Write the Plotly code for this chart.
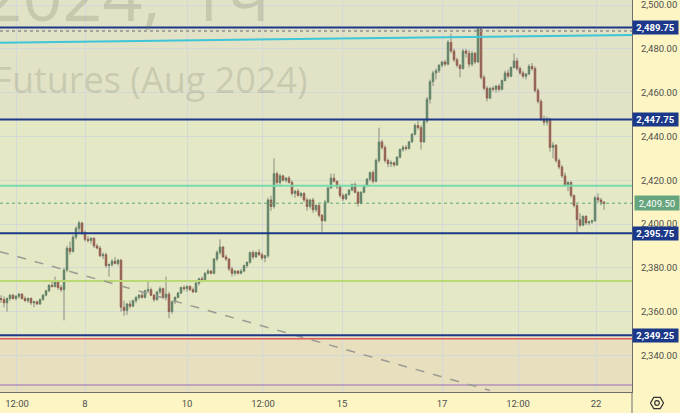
import math
import plotly.graph_objects as go

# ---------------- data ----------------
opens = [2366, 2365.5, 2364, 2366, 2367.5, 2366, 2367, 2368, 2366, 2365,
         2366, 2364, 2364.5, 2363.5, 2365.5, 2367.5, 2369.5, 2372, 2371.5, 2373.5,
         2371, 2370, 2379, 2389, 2387.5, 2394, 2398, 2400.5, 2396, 2393,
         2392.5, 2393.5, 2390, 2389, 2385.5, 2386, 2381, 2381.5, 2383, 2382,
         2383.5, 2362, 2360.5, 2363.5, 2362.5, 2365, 2366.5, 2367.5, 2366.5, 2369.5,
         2370, 2367.5, 2365.5, 2369, 2370.5, 2366.5, 2368, 2360, 2364.5, 2366.5,
         2368.5, 2371, 2370.5, 2371.5, 2370, 2369, 2373, 2375, 2374.5, 2377.5,
         2378.5, 2377.5, 2384, 2387, 2389.5, 2385, 2384, 2379.5, 2377.5, 2378.5,
         2377.5, 2378.5, 2381, 2382.5, 2387, 2385, 2387, 2386, 2384.5, 2385.5,
         2411, 2408, 2423, 2419, 2422, 2420, 2421, 2419, 2414, 2415,
         2413, 2414, 2411, 2408, 2411, 2406.5, 2408.5, 2404, 2401.5, 2410,
         2416.5, 2421, 2419.5, 2417, 2413, 2411.5, 2413.5, 2415.5, 2418, 2414.5,
         2409.5, 2414.5, 2417.5, 2420.5, 2423.5, 2419.5, 2429, 2437.5, 2435, 2429,
         2427.5, 2428, 2427, 2430.5, 2434, 2435, 2434.5, 2437.5, 2441, 2445,
         2444, 2437.5, 2447, 2457, 2465, 2469, 2470, 2472.5, 2474, 2473,
         2483, 2479, 2475, 2472.5, 2471, 2479, 2478, 2473, 2478, 2474,
         2489, 2467, 2462, 2457.5, 2462, 2461.5, 2463, 2461.5, 2465.5, 2469,
         2467.5, 2471.5, 2474.5, 2471, 2469, 2467.5, 2468.5, 2472, 2471, 2461,
         2456, 2448, 2446.5, 2448, 2435, 2436, 2429, 2426, 2422, 2418,
         2419, 2413, 2408.5, 2402, 2399.5, 2403.5, 2400.5, 2401, 2401.5, 2412,
         2411, 2410]
highs = [2367.5, 2367, 2366.5, 2368, 2368, 2367.5, 2368.5, 2368.5, 2367, 2366.5,
         2366.5, 2365, 2365, 2366, 2368, 2370, 2372.5, 2374, 2376, 2374,
         2372, 2380, 2390, 2392, 2395, 2399, 2401.5, 2401, 2397, 2394.5,
         2394, 2394, 2391, 2390, 2387, 2387, 2382, 2384, 2385, 2384,
         2384, 2365, 2364, 2365, 2365.5, 2367, 2368, 2369, 2370, 2374,
         2371, 2368, 2369.5, 2371.5, 2371, 2376, 2369, 2365, 2367, 2369,
         2371.5, 2372, 2372, 2372, 2371, 2373.5, 2375.5, 2376, 2378, 2379.5,
         2379, 2384.5, 2388, 2393, 2390, 2386, 2384.5, 2380.5, 2379, 2379,
         2379.5, 2381.5, 2383, 2387.5, 2388, 2387.5, 2388.5, 2387, 2386, 2412,
         2413, 2430, 2424, 2423, 2422.5, 2421.5, 2422, 2420, 2415.5, 2416,
         2414.5, 2414.5, 2412, 2411.5, 2412, 2409, 2409, 2404.5, 2411, 2417,
         2423, 2423, 2420, 2418, 2414, 2414, 2416, 2418.5, 2419, 2415,
         2415, 2418, 2421, 2424, 2424.5, 2430, 2444, 2438.5, 2436, 2430,
         2429, 2428.5, 2431, 2434.5, 2436, 2436, 2438, 2441.5, 2446, 2447,
         2445, 2448, 2458, 2466, 2470, 2471, 2473, 2474.5, 2475, 2484,
         2487, 2480, 2476, 2473, 2480, 2480, 2479.5, 2479, 2478.5, 2489.5,
         2489.5, 2468, 2463, 2462.5, 2463, 2463.5, 2464, 2466, 2470, 2470.5,
         2472, 2478, 2476, 2472, 2470, 2469, 2473, 2473.5, 2472, 2462,
         2457, 2449.5, 2449, 2448.5, 2437.5, 2436.5, 2430, 2427, 2423.5, 2419.5,
         2419.5, 2413.5, 2409, 2405, 2404, 2404, 2401.5, 2402, 2413, 2414,
         2412, 2410.5]
lows = [2364, 2362, 2360, 2365, 2365.5, 2365, 2366, 2365.5, 2364.5, 2364,
        2363, 2362, 2363, 2363, 2365, 2367, 2369, 2371, 2371, 2370,
        2369, 2356, 2378, 2386, 2387, 2393, 2396, 2395, 2392, 2391.5,
        2391, 2389, 2388.5, 2385, 2384, 2380, 2376, 2380.5, 2381.5, 2381,
        2360, 2358, 2358.5, 2361.5, 2362, 2364, 2365.5, 2366, 2366, 2368.5,
        2367, 2364.5, 2365, 2368, 2366, 2365, 2357, 2359, 2363.5, 2366,
        2368, 2369.5, 2369, 2369.5, 2368.5, 2368.5, 2372, 2373.5, 2374, 2377,
        2377, 2377, 2383, 2386, 2384.5, 2383, 2378.5, 2376, 2376.5, 2377,
        2377, 2378, 2380, 2382, 2384, 2384.5, 2385.5, 2383.5, 2382.5, 2384.5,
        2406, 2407, 2418, 2418, 2419.5, 2419, 2418.5, 2413, 2412, 2412.5,
        2412, 2410, 2406, 2407, 2405, 2405.5, 2403, 2396.5, 2401, 2409.5,
        2416, 2419, 2416, 2412, 2410.5, 2411, 2413, 2415, 2414, 2408,
        2409, 2414, 2417, 2419.5, 2418.5, 2419, 2428, 2434, 2428, 2426,
        2426, 2426, 2426.5, 2430, 2433, 2433.5, 2434, 2437, 2440.5, 2443,
        2434, 2437, 2446, 2455, 2463, 2466, 2469, 2471.5, 2472, 2472.5,
        2478, 2474, 2471.5, 2467, 2470.5, 2476, 2471.5, 2472, 2473, 2473.5,
        2466, 2461, 2456, 2457, 2460.5, 2460, 2460.5, 2461, 2465, 2466.5,
        2467, 2471, 2470, 2468, 2466.5, 2466, 2468, 2470, 2460, 2455,
        2447, 2445, 2445, 2433, 2430, 2428, 2425, 2421, 2417, 2415,
        2412, 2407.5, 2396, 2398.5, 2399, 2399.5, 2399.5, 2400, 2401, 2409.5,
        2408.5, 2406.5]
closes = [2365.5, 2364, 2366, 2367.5, 2366, 2367, 2368, 2366, 2365, 2366,
          2364, 2364.5, 2363.5, 2365.5, 2367.5, 2369.5, 2372, 2371.5, 2373.5, 2371,
          2370, 2379, 2389, 2387.5, 2394, 2398, 2400.5, 2396, 2393, 2392.5,
          2393.5, 2390, 2389, 2385.5, 2386, 2381, 2381.5, 2383, 2382, 2383.5,
          2362, 2360.5, 2363.5, 2362.5, 2365, 2366.5, 2367.5, 2366.5, 2369.5, 2370,
          2367.5, 2365.5, 2369, 2370.5, 2366.5, 2368, 2360, 2364.5, 2366.5, 2368.5,
          2371, 2370.5, 2371.5, 2370, 2369, 2373, 2375, 2374.5, 2377.5, 2378.5,
          2377.5, 2384, 2387, 2389.5, 2385, 2384, 2379.5, 2377.5, 2378.5, 2377.5,
          2378.5, 2381, 2382.5, 2387, 2385, 2387, 2386, 2384.5, 2385.5, 2411,
          2408, 2423, 2419, 2422, 2420, 2421, 2419, 2414, 2415, 2413,
          2414, 2411, 2408, 2411, 2406.5, 2408.5, 2404, 2401.5, 2410, 2416.5,
          2421, 2419.5, 2417, 2413, 2411.5, 2413.5, 2415.5, 2418, 2414.5, 2409.5,
          2414.5, 2417.5, 2420.5, 2423.5, 2419.5, 2429, 2437.5, 2435, 2429, 2427.5,
          2428, 2427, 2430.5, 2434, 2435, 2434.5, 2437.5, 2441, 2445, 2444,
          2437.5, 2447, 2457, 2465, 2469, 2470, 2472.5, 2474, 2473, 2483,
          2479, 2475, 2472.5, 2471, 2479, 2478, 2473, 2478, 2474, 2489,
          2467, 2462, 2457.5, 2462, 2461.5, 2463, 2461.5, 2465.5, 2469, 2467.5,
          2471.5, 2474.5, 2471, 2469, 2467.5, 2468.5, 2472, 2471, 2461, 2456,
          2448, 2446.5, 2448, 2435, 2436, 2429, 2426, 2422, 2418, 2419,
          2413, 2408.5, 2402, 2399.5, 2403.5, 2400.5, 2401, 2401.5, 2412, 2411,
          2410, 2409.5]
bar_index = list(range(len(closes)))

tick_positions = [5.33, 28, 62, 87.33, 113.67, 147, 172.33, 198.33]
tick_labels = ["12:00", "8", "10", "12:00", "15", "17", "12:00", "22"]
price_ticks = [2340, 2360, 2380, 2400, 2420, 2440, 2460, 2480, 2500]

key_levels = [2489.75, 2447.75, 2395.75, 2349.25]
last_price = 2409.50
dotted_level = 2488.2
mint_level = 2417.5
lime_level = 2374.0
red_level = 2347.6
purple_level = 2326.5
channel_x = [-0.34, 210.34]
channel_y = [2482.8, 2486.3]
trend_x = [-0.34, 163.0]
trend_y = [2387.4, 2324.0]

X_RANGE = [-1 / 3, 210.33]
Y_RANGE = [2323.3, 2502.3]

# ---------------- styling ----------------
NAVY = "#1b3889"
GREEN_BODY = "#3f8c5e"
GREEN_EDGE = "#2d6b46"
RED_BODY = "#bf3a2c"
RED_EDGE = "#8a2519"
WICK = "#8b8e82"
TICK_FONT = dict(family="Roboto", size=9.5, color="#4f4f4f")
PLOT_W, PLOT_H = 632, 392
WM_COLOR = "rgba(100,100,85,0.2)"

fig = go.Figure()

# wicks (high-low) drawn behind bodies
wx, wy = [], []
for i, h, l in zip(bar_index, highs, lows):
    wx += [i, i, None]
    wy += [l, h, None]
fig.add_trace(go.Scatter(x=wx, y=wy, mode="lines",
                         line=dict(color=WICK, width=1),
                         hoverinfo="skip", showlegend=False))

# bodies
body_hi = [max(o, c) for o, c in zip(opens, closes)]
body_lo = [min(o, c) for o, c in zip(opens, closes)]
fig.add_trace(go.Candlestick(
    x=bar_index, open=opens, high=body_hi, low=body_lo, close=closes,
    increasing=dict(fillcolor=GREEN_BODY, line=dict(color=GREEN_EDGE, width=0.8)),
    decreasing=dict(fillcolor=RED_BODY, line=dict(color=RED_EDGE, width=0.8)),
    whiskerwidth=0, showlegend=False, hoverinfo="skip"))

shapes = []
# background zones
shapes.append(dict(type="rect", xref="paper", yref="y", x0=0, x1=1,
                   y0=key_levels[1], y1=Y_RANGE[1], fillcolor="#e1e2c6",
                   line=dict(width=0), layer="below"))
shapes.append(dict(type="rect", xref="paper", yref="y", x0=0, x1=1,
                   y0=Y_RANGE[0], y1=key_levels[3], fillcolor="#e7dfbe",
                   line=dict(width=0), layer="below"))


def hline(y, color, width, dash="solid"):
    return dict(type="line", xref="paper", yref="y", x0=0, x1=1, y0=y, y1=y,
                line=dict(color=color, width=width, dash=dash), layer="above")


shapes.append(hline(dotted_level, "#8f8f8f", 1.5, "dot"))
shapes.append(dict(type="line", xref="x", yref="y", x0=channel_x[0], x1=channel_x[1],
                   y0=channel_y[0], y1=channel_y[1],
                   line=dict(color="#3ec6d8", width=2), layer="above"))
shapes.append(hline(mint_level, "#74dcb0", 2))
shapes.append(hline(last_price, "#5aa878", 1, "dot"))
shapes.append(hline(lime_level, "#bcd874", 2))
shapes.append(hline(red_level, "#dd5b5b", 1.5))
shapes.append(hline(purple_level, "#9c6fb8", 1.2))
shapes.append(dict(type="line", xref="x", yref="y", x0=trend_x[0], x1=trend_x[1],
                   y0=trend_y[0], y1=trend_y[1],
                   line=dict(color="#9b9b94", width=1.5, dash="dash"), layer="above"))
for lv in key_levels:
    shapes.append(hline(lv, NAVY, 2))

# right axis line continued through the bottom strip
shapes.append(dict(type="line", xref="paper", yref="paper", x0=1, x1=1,
                   y0=-21 / PLOT_H, y1=0, line=dict(color="#6e6e6e", width=1)))

# settings icon (hexagon with ring) in the bottom-right corner
cx, cy, r = 657, 403, 6.5
pts = []
for k in range(6):
    a = math.radians(60 * k)
    px = cx + r * math.cos(a)
    py = cy + r * math.sin(a)
    pts.append((px / PLOT_W, (PLOT_H - py) / PLOT_H))
path = "M " + " L ".join(f"{x:.5f},{y:.5f}" for x, y in pts) + " Z"
shapes.append(dict(type="path", xref="paper", yref="paper", path=path,
                   line=dict(color="#333333", width=1.2)))
cr = 2.3
shapes.append(dict(type="circle", xref="paper", yref="paper",
                   x0=(cx - cr) / PLOT_W, x1=(cx + cr) / PLOT_W,
                   y0=(PLOT_H - cy - cr) / PLOT_H, y1=(PLOT_H - cy + cr) / PLOT_H,
                   line=dict(color="#333333", width=1.2)))

annotations = []
# watermark (symbol and interval, then description)
annotations.append(dict(text="GCQ2024,", xref="paper", yref="paper",
                        x=163 / PLOT_W, y=(PLOT_H - 44) / PLOT_H,
                        xanchor="right", yanchor="bottom", showarrow=False,
                        font=dict(family="Open Sans", size=70, color=WM_COLOR)))
annotations.append(dict(text="1ч", xref="paper", yref="paper",
                        x=272 / PLOT_W, y=(PLOT_H - 44) / PLOT_H,
                        xanchor="right", yanchor="bottom", showarrow=False,
                        font=dict(family="Open Sans", size=70, color=WM_COLOR)))
annotations.append(dict(text="Gold Futures (Aug 2024)", xref="paper", yref="paper",
                        x=310 / PLOT_W, y=(PLOT_H - 106) / PLOT_H,
                        xanchor="right", yanchor="bottom", showarrow=False,
                        font=dict(family="Open Sans", size=36, color=WM_COLOR)))

# price labels on the axis
for lv in key_levels:
    annotations.append(dict(text=f"<b>{lv:,.2f}</b>", xref="paper", yref="y",
                            x=1, y=lv, xanchor="left", yanchor="middle",
                            showarrow=False, bgcolor=NAVY, width=45, height=13,
                            borderpad=0, xshift=0,
                            font=dict(family="Roboto", size=9.5, color="white")))
annotations.append(dict(text=f"{last_price:,.2f}", xref="paper", yref="y",
                        x=1, y=last_price, xanchor="left", yanchor="middle",
                        showarrow=False, bgcolor="#66a57e", width=44, height=14,
                        borderpad=0, xshift=2,
                        font=dict(family="Roboto", size=9.5, color="white")))

fig.update_layout(
    width=680, height=413,
    margin=dict(l=0, r=48, t=0, b=21),
    paper_bgcolor="#fdf6c4",
    plot_bgcolor="#e5e8c4",
    shapes=shapes,
    annotations=annotations,
    showlegend=False,
    xaxis=dict(range=X_RANGE, tickvals=tick_positions, ticktext=tick_labels,
               showgrid=True, gridcolor="#d2d9d6", gridwidth=1,
               zeroline=False, showline=True, linecolor="#6e6e6e", linewidth=1,
               ticks="", tickfont=TICK_FONT, rangeslider=dict(visible=False),
               ticklabelstandoff=3, fixedrange=True),
    yaxis=dict(range=Y_RANGE, side="right", tickvals=price_ticks,
               tickformat=",.2f", showgrid=True, gridcolor="#d2d9d6",
               gridwidth=1, zeroline=False, showline=True, linecolor="#6e6e6e",
               linewidth=1, ticks="", tickfont=TICK_FONT,
               ticklabelstandoff=6, ticklabeloverflow="allow", fixedrange=True),
)

fig.write_html("out.html", config={"displayModeBar": False},
               post_script="document.body.style.margin='0';")
